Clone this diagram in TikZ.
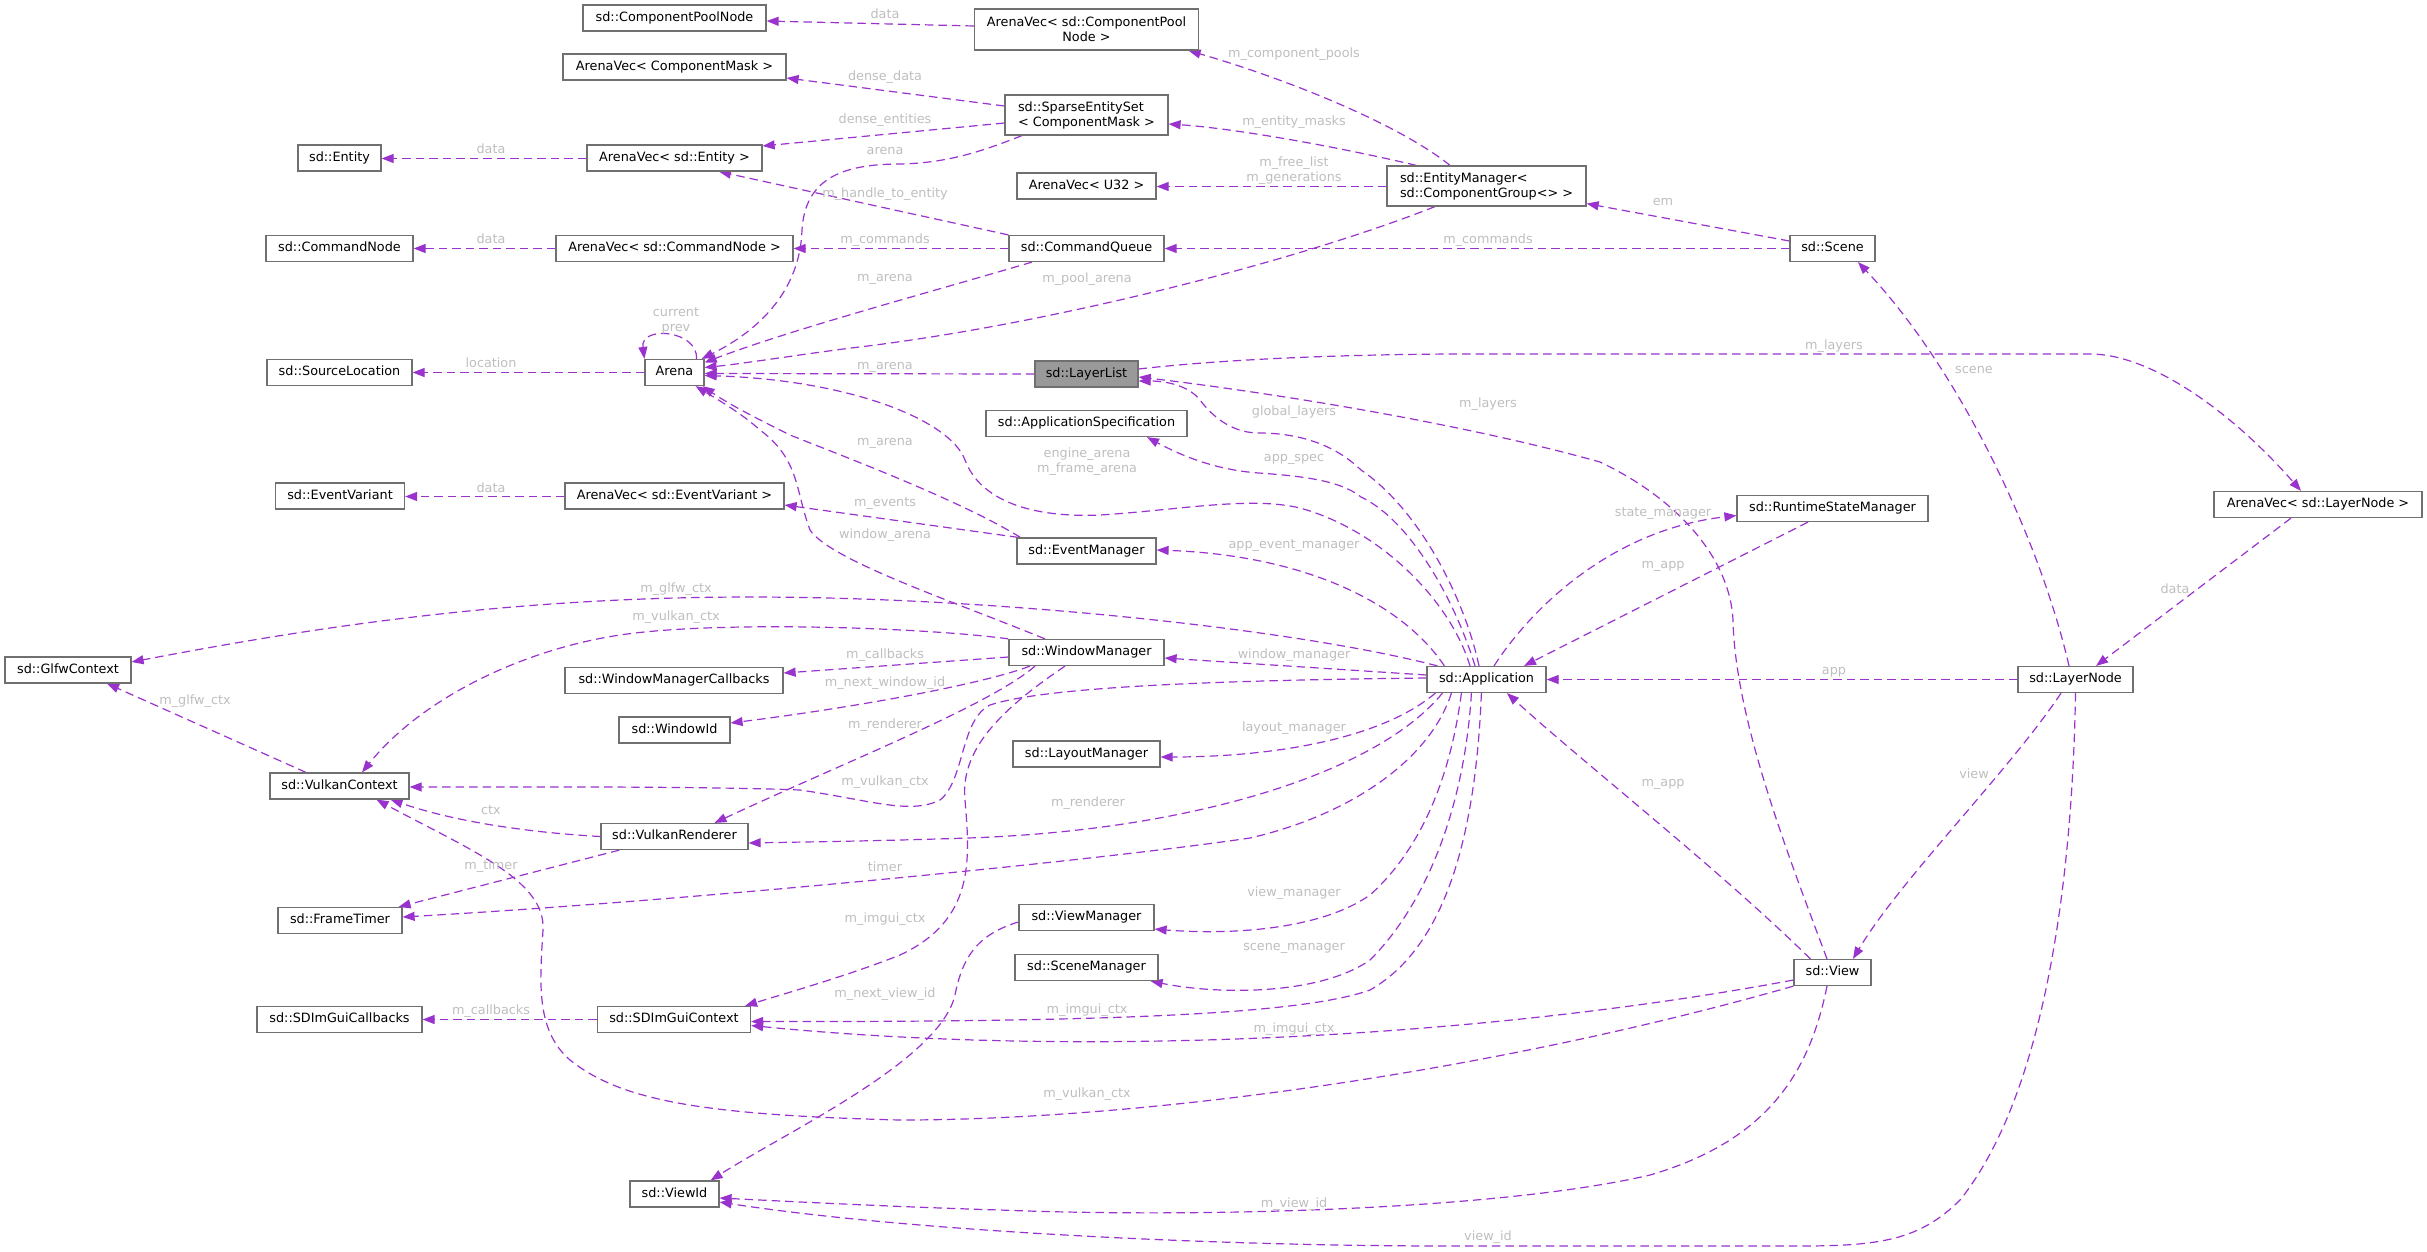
\documentclass[tikz,border=0pt]{standalone}
\usepackage{fontspec}
\setmainfont{DejaVu Sans}
\usetikzlibrary{arrows.meta}
\definecolor{edgec}{HTML}{9A32CD}
\definecolor{labc}{HTML}{BEBEBE}
\definecolor{boxc}{HTML}{707070}
\definecolor{llfill}{HTML}{999999}
\newcommand\dxfont{\fontsize{12.8}{15}\selectfont}
\pgfdeclarelayer{bg}
\pgfsetlayers{bg,main}
\tikzset{
  clsbase/.style={draw=boxc, line width=1.2pt, fill=white, minimum height=26pt, inner sep=0pt, font=\dxfont, text=black},
  cls/.style={clsbase, text height=9.5pt, text depth=3pt},
  clsm/.style={clsbase},
  dep/.style={draw=edgec, line width=1.2pt, dash pattern=on 8.5pt off 5pt, -{Triangle[length=12pt,width=9pt]}},
  lbl/.style={text=labc, font=\dxfont, inner sep=0pt, text height=9.5pt, text depth=3pt},
  lblm/.style={text=labc, font=\dxfont, inner sep=0pt, align=center},
}
\begin{document}
\begin{tikzpicture}[x=1pt,y=-1pt]
\useasboundingbox (0,0) rectangle (2427,1251);
% nodes
\node[cls, minimum width=183] (cpn) at (674.5,18) {sd::ComponentPoolNode};
\node[cls, minimum width=223] (avcm) at (674.5,67) {ArenaVec< ComponentMask >};
\node[cls, minimum width=83] (ent) at (339.5,158) {sd::Entity};
\node[cls, minimum width=175] (avent) at (674.5,158) {ArenaVec< sd::Entity >};
\node[cls, minimum width=147] (cmdn) at (339.5,248.5) {sd::CommandNode};
\node[cls, minimum width=237] (avcmdn) at (674.5,248.5) {ArenaVec< sd::CommandNode >};
\node[cls, minimum width=145] (srcloc) at (339.5,372.5) {sd::SourceLocation};
\node[cls, minimum width=59] (arena) at (674.5,372.5) {Arena};
\node[clsm, minimum width=224, minimum height=41, align=center] (avcpn) at (1086.5,29.5) {ArenaVec< sd::ComponentPool\\Node >};
\node[clsm, minimum width=163, minimum height=40, align=left] (ses) at (1086.5,115) {sd::SparseEntitySet\\< ComponentMask >};
\node[cls, minimum width=139] (avu32) at (1086.5,186) {ArenaVec< U32 >};
\node[clsm, minimum width=199, minimum height=40, align=left] (em) at (1486.5,186) {sd::EntityManager<\\ sd::ComponentGroup<> >};
\node[cls, minimum width=155] (cq) at (1086.5,248.5) {sd::CommandQueue};
\node[cls, minimum width=103, fill=llfill] (ll) at (1086.5,374) {sd::LayerList};
\node[cls, minimum width=85] (scene) at (1832.5,248.5) {sd::Scene};
\node[cls, minimum width=201] (appspec) at (1086.5,423.5) {sd::ApplicationSpecification};
\node[cls, minimum width=139] (evm) at (1086.5,551) {sd::EventManager};
\node[cls, minimum width=155] (wm) at (1086.5,652.5) {sd::WindowManager};
\node[cls, minimum width=119] (app) at (1486.5,679.5) {sd::Application};
\node[cls, minimum width=147] (lm) at (1086.5,754) {sd::LayoutManager};
\node[cls, minimum width=191] (rsm) at (1832.5,508.5) {sd::RuntimeStateManager};
\node[cls, minimum width=208] (avln) at (2318,504.5) {ArenaVec< sd::LayerNode >};
\node[cls, minimum width=115] (ln) at (2075.5,679.5) {sd::LayerNode};
\node[cls, minimum width=129] (ev) at (340,496) {sd::EventVariant};
\node[cls, minimum width=219] (avev) at (674.5,496) {ArenaVec< sd::EventVariant >};
\node[cls, minimum width=126] (glfw) at (68,670) {sd::GlfwContext};
\node[cls, minimum width=218] (wmcb) at (674,680.5) {sd::WindowManagerCallbacks};
\node[cls, minimum width=111] (wid) at (674.5,730) {sd::WindowId};
\node[cls, minimum width=139] (vkc) at (339.5,786) {sd::VulkanContext};
\node[cls, minimum width=147] (vkr) at (674.5,836.5) {sd::VulkanRenderer};
\node[cls, minimum width=124] (ft) at (340,920.5) {sd::FrameTimer};
\node[cls, minimum width=165] (sdcb) at (339.5,1019.5) {sd::SDImGuiCallbacks};
\node[cls, minimum width=153] (sdctx) at (674,1019.5) {sd::SDImGuiContext};
\node[cls, minimum width=89] (vid) at (674.5,1194) {sd::ViewId};
\node[cls, minimum width=135] (vm) at (1086.5,917.5) {sd::ViewManager};
\node[cls, minimum width=143] (sm) at (1086.5,967.5) {sd::SceneManager};
\node[cls, minimum width=77] (view) at (1832.5,972.5) {sd::View};
% edges
\begin{pgfonlayer}{bg}
\draw[dep] ([shift={(0,-3.5)}]avcpn.west) -- ([shift={(0,3)}]cpn.east);
\draw[dep] ([shift={(0,-9)}]ses.west) -- ([shift={(0,11)}]avcm.east);
\draw[dep] ([shift={(0,8)}]ses.west) -- ([shift={(0,-12)}]avent.east);
\draw[dep] ([shift={(-64.5,0)}]ses.south) .. controls (985,150) and (950,163) .. (900,164) .. controls (840,164) and (805,180) .. (802,230) .. controls (800,290) and (760,330) .. ([shift={(-3,0)}]arena.north east);
\draw[dep] ([shift={(0,0.5)}]avent.west) -- ([shift={(0,0.5)}]ent.east);
\draw[dep] (cq.north west) -- ([shift={(44.5,0)}]avent.south);
\draw[dep] (avcmdn.west) -- (cmdn.east);
\draw[dep] (cq.west) -- (avcmdn.east);
\draw[dep] ([shift={(-54.5,0)}]cq.south) .. controls (920,295) and (790,330) .. ([shift={(0,-10)}]arena.east);
\draw[dep] (arena.west) -- (srcloc.east);
\draw[dep] ([shift={(-8,0)}]arena.north east) .. controls (698,330) and (640,325) .. (arena.north west);
\draw[dep] (ll.west) -- ([shift={(0,1)}]arena.east);
\draw[dep] ([shift={(-36.5,0)}]em.north) .. controls (1400,125) and (1290,80) .. ([shift={(-10.5,0)}]avcpn.south east);
\draw[dep] ([shift={(30,0)}]em.north west) .. controls (1330,145) and (1230,128) .. ([shift={(0,9)}]ses.east);
\draw[dep] ([shift={(0,0.5)}]em.west) -- ([shift={(0,0.5)}]avu32.east);
\draw[dep] ([shift={(-51.5,0)}]em.south) .. controls (1300,260) and (1050,325) .. (851,348) .. controls (790,356) and (740,364) .. ([shift={(0,-5)}]arena.east);
\draw[dep] ([shift={(0,-7.5)}]scene.west) -- ([shift={(0,-3)}]em.south east);
\draw[dep] (scene.west) -- (cq.east);
\draw[dep] ([shift={(-6.5,0)}]ln.north) .. controls (2040,540) and (1960,370) .. ([shift={(25.5,0)}]scene.south);
\draw[dep] ([shift={(0,-5)}]ll.east) .. controls (1200,362) and (1300,355) .. (1450,354) -- (2090,354) .. controls (2150,354) and (2230,410) .. ([shift={(-17,0)}]avln.north);
\draw[dep] ([shift={(-5.5,0)}]view.north) .. controls (1790,860) and (1735,720) .. (1733,620) .. controls (1730,560) and (1680,500) .. (1600,462) .. controls (1450,420) and (1250,390) .. ([shift={(0,3)}]ll.east);
\draw[dep] ([shift={(-7.5,0)}]app.north) .. controls (1465,600) and (1420,510) .. (1361,470) .. controls (1330,440) and (1290,433) .. (1259,433) .. controls (1235,433) and (1215,420) .. (1200,400) .. controls (1188,385) and (1165,381) .. ([shift={(0,7)}]ll.east);
\draw[dep] ([shift={(-27,0)}]avln.south) -- ([shift={(20.5,0)}]ln.north);
\draw[dep] (ln.west) -- (app.east);
\draw[dep] ([shift={(-14.5,0)}]ln.south) .. controls (2010,770) and (1900,880) .. ([shift={(20.5,0)}]view.north);
\draw[dep] (ln.south) .. controls (2072,900) and (2040,1100) .. (1960,1200) .. controls (1920,1240) and (1880,1246) .. (1800,1246) -- (1450,1246) .. controls (1200,1246) and (900,1230) .. ([shift={(0,8)}]vid.east);
\draw[dep] ([shift={(-11.5,0)}]app.north) .. controls (1455,600) and (1410,520) .. (1361,497) .. controls (1340,480) and (1300,476) .. (1259,473) .. controls (1215,470) and (1180,455) .. ([shift={(60.5,0)}]appspec.south);
\draw[dep] ([shift={(-16.5,0)}]app.north) .. controls (1450,600) and (1380,530) .. (1300,508) .. controls (1250,496) and (1180,510) .. (1100,515) .. controls (1030,518) and (980,500) .. (965,460) .. controls (950,420) and (850,380) .. ([shift={(0,3)}]arena.east);
\draw[dep] ([shift={(18,0)}]app.north west) .. controls (1400,600) and (1300,555) .. ([shift={(0,-1)}]evm.east);
\draw[dep] ([shift={(2,0)}]evm.north west) -- ([shift={(0,9)}]avev.east);
\draw[dep] ([shift={(4,0)}]evm.north west) .. controls (960,500) and (840,455) .. (790,435) .. controls (760,420) and (730,405) .. ([shift={(-2,0)}]arena.south east);
\draw[dep] ([shift={(0,0.5)}]avev.west) -- ([shift={(0,0.5)}]ev.east);
\draw[dep] ([shift={(-41.5,0)}]wm.north) .. controls (950,600) and (830,560) .. (810,530) .. controls (795,490) and (800,460) .. (760,430) .. controls (740,412) and (715,398) .. ([shift={(-9,0)}]arena.south east);
\draw[dep] ([shift={(11,0)}]app.north west) .. controls (1300,630) and (1000,597) .. (750,597) .. controls (500,597) and (300,630) .. ([shift={(0,-8)}]glfw.east);
\draw[dep] (wm.north west) .. controls (930,628) and (720,620) .. (620,635) .. controls (520,650) and (420,700) .. ([shift={(22.5,0)}]vkc.north);
\draw[dep] ([shift={(0,4.5)}]wm.west) -- ([shift={(0,-7.5)}]wmcb.east);
\draw[dep] ([shift={(-56.5,0)}]wm.south) .. controls (980,685) and (850,708) .. ([shift={(0,-7)}]wid.east);
\draw[dep] ([shift={(0,-4.5)}]app.west) -- ([shift={(0,5.5)}]wm.east);
\draw[dep] ([shift={(-51.5,0)}]wm.south) .. controls (990,705) and (850,760) .. ([shift={(40,0)}]vkr.north);
\draw[dep] ([shift={(0,-1.5)}]app.west) .. controls (1250,680) and (1050,685) .. (990,705) .. controls (960,720) and (965,780) .. (940,800) .. controls (910,815) and (870,800) .. (800,790) .. controls (700,786) and (500,787) .. ([shift={(0,1)}]vkc.east);
\draw[dep] ([shift={(9,0)}]app.south west) .. controls (1380,740) and (1270,757) .. ([shift={(0,3)}]lm.east);
\draw[dep] ([shift={(16,0)}]app.south west) .. controls (1380,770) and (1200,830) .. (968,838) .. controls (880,841) and (800,842) .. ([shift={(0,6.5)}]vkr.east);
\draw[dep] ([shift={(25,0)}]app.south west) .. controls (1430,760) and (1350,815) .. (1250,838) .. controls (1100,860) and (700,900) .. ([shift={(0,-3.5)}]ft.east);
\draw[dep] ([shift={(-21.5,0)}]wm.south) .. controls (1000,710) and (960,750) .. (965,800) .. controls (970,860) and (975,920) .. (900,955) .. controls (850,975) and (780,995) .. ([shift={(-6,0)}]sdctx.north east);
\draw[dep] ([shift={(35,0)}]app.south west) .. controls (1450,780) and (1420,850) .. (1370,895) .. controls (1320,930) and (1230,935) .. ([shift={(0,-2)}]vm.south east);
\draw[dep] ([shift={(45,0)}]app.south west) .. controls (1465,800) and (1430,900) .. (1370,960) .. controls (1320,995) and (1220,995) .. ([shift={(-8,0)}]sm.south east);
\draw[dep] ([shift={(55,0)}]app.south west) .. controls (1475,850) and (1440,950) .. (1370,990) .. controls (1300,1015) and (1100,1022) .. ([shift={(0,2)}]sdctx.east);
\draw[dep] ([shift={(17,0)}]view.north west) .. controls (1720,870) and (1580,760) .. ([shift={(20.5,0)}]app.south);
\draw[dep] ([shift={(-24.5,0)}]rsm.south) -- ([shift={(37.5,0)}]app.north);
\draw[dep] ([shift={(7.5,0)}]app.north) .. controls (1530,610) and (1610,530) .. ([shift={(0,7)}]rsm.west);
\draw[dep] ([shift={(-5.5,0)}]view.south) .. controls (1810,1070) and (1770,1140) .. (1650,1175) .. controls (1500,1210) and (1200,1218) .. (1000,1210) .. controls (900,1207) and (800,1202) .. ([shift={(0,4)}]vid.east);
\draw[dep] ([shift={(0,7.5)}]view.west) .. controls (1500,1035) and (1100,1060) .. ([shift={(0,6)}]sdctx.east);
\draw[dep] (view.south west) .. controls (1500,1070) and (1150,1120) .. (900,1120) .. controls (700,1115) and (620,1100) .. (570,1060) .. controls (535,1030) and (540,980) .. (543,930) .. controls (546,880) and (470,850) .. ([shift={(37,0)}]vkc.south);
\draw[dep] (vkr.west) .. controls (520,832) and (450,820) .. ([shift={(-19,0)}]vkc.south east);
\draw[dep] ([shift={(19,0)}]vkr.south west) -- ([shift={(-4,0)}]ft.north east);
\draw[dep] ([shift={(-33.5,0)}]vkc.north) -- ([shift={(39,0)}]glfw.south);
\draw[dep] (sdctx.west) -- (sdcb.east);
\draw[dep] ([shift={(0,4.5)}]vm.west) .. controls (975,935) and (962,960) .. (955,995) .. controls (940,1060) and (790,1130) .. ([shift={(-9,0)}]vid.north east);
\end{pgfonlayer}
% labels
\node[lbl] (l1) at (885,15) {data};
\node[lbl] (l2) at (885,77) {dense\_data};
\node[lbl] (l3) at (885,120) {dense\_entities};
\node[lbl] (l4) at (885,151) {arena};
\node[lbl] (l5) at (491,150) {data};
\node[lbl] (l6) at (885,194) {m\_handle\_to\_entity};
\node[lbl] (l7) at (491,240) {data};
\node[lbl] (l8) at (885,240) {m\_commands};
\node[lbl] (l9) at (885,278) {m\_arena};
\node[lbl] (l10) at (491,364) {location};
\node[lblm] (l11) at (676,320.5) {current\\prev};
\node[lbl] (l12) at (885,366) {m\_arena};
\node[lbl] (l13) at (1294,54) {m\_component\_pools};
\node[lbl] (l14) at (1294,122) {m\_entity\_masks};
\node[lblm] (l15) at (1294,170.5) {m\_free\_list\\m\_generations};
\node[lbl] (l16) at (1087,279) {m\_pool\_arena};
\node[lbl] (l17) at (1663,202) {em};
\node[lbl] (l18) at (1488,240) {m\_commands};
\node[lbl] (l19) at (1974,370) {scene};
\node[lbl] (l20) at (1834,346) {m\_layers};
\node[lbl] (l21) at (1488,404) {m\_layers};
\node[lbl] (l22) at (1294,412) {global\_layers};
\node[lbl] (l23) at (2175,590) {data};
\node[lbl] (l24) at (1834,671) {app};
\node[lbl] (l25) at (1974,775) {view};
\node[lbl] (l26) at (1488,1237) {view\_id};
\node[lbl] (l27) at (1294,458) {app\_spec};
\node[lblm] (l28) at (1087,461.5) {engine\_arena\\m\_frame\_arena};
\node[lbl] (l29) at (1294,545) {app\_event\_manager};
\node[lbl] (l30) at (885,503) {m\_events};
\node[lbl] (l31) at (885,442) {m\_arena};
\node[lbl] (l32) at (491,489) {data};
\node[lbl] (l33) at (885,535) {window\_arena};
\node[lbl] (l34) at (676,589) {m\_glfw\_ctx};
\node[lbl] (l35) at (676,617) {m\_vulkan\_ctx};
\node[lbl] (l36) at (885,655) {m\_callbacks};
\node[lbl] (l37) at (885,683) {m\_next\_window\_id};
\node[lbl] (l38) at (1294,655) {window\_manager};
\node[lbl] (l39) at (885,725) {m\_renderer};
\node[lbl] (l40) at (885,782) {m\_vulkan\_ctx};
\node[lbl] (l41) at (1294,728) {layout\_manager};
\node[lbl] (l42) at (1088,803) {m\_renderer};
\node[lbl] (l43) at (885,868) {timer};
\node[lbl] (l44) at (885,919) {m\_imgui\_ctx};
\node[lbl] (l45) at (1294,893) {view\_manager};
\node[lbl] (l46) at (1294,947) {scene\_manager};
\node[lbl] (l47) at (1087,1010) {m\_imgui\_ctx};
\node[lbl] (l48) at (1663,783) {m\_app};
\node[lbl] (l49) at (1663,565) {m\_app};
\node[lbl] (l50) at (1663,513) {state\_manager};
\node[lbl] (l51) at (1294,1204) {m\_view\_id};
\node[lbl] (l52) at (1294,1029) {m\_imgui\_ctx};
\node[lbl] (l53) at (1087,1094) {m\_vulkan\_ctx};
\node[lbl] (l54) at (491,811) {ctx};
\node[lbl] (l55) at (491,866) {m\_timer};
\node[lbl] (l56) at (195,701) {m\_glfw\_ctx};
\node[lbl] (l57) at (491,1011) {m\_callbacks};
\node[lbl] (l58) at (885,994) {m\_next\_view\_id};
\end{tikzpicture}
\end{document}
